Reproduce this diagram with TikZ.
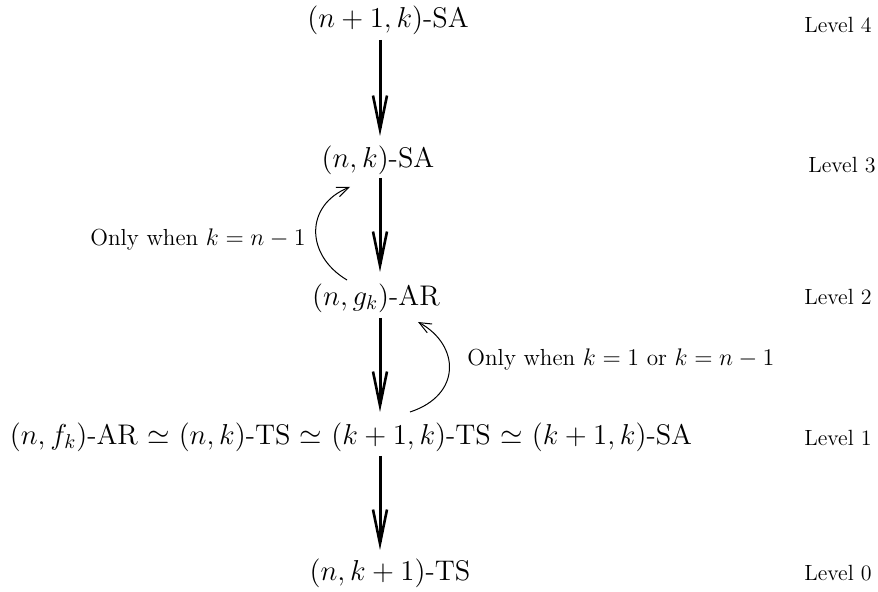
\documentclass[tikz,border=0pt]{standalone}
\usetikzlibrary{arrows.meta}
\begin{document}
\begin{tikzpicture}[x=0.5pt,y=-0.5pt,
  main/.style={inner sep=0pt,font=\fontsize{14.2}{17}\selectfont},
  lvl/.style={inner sep=0pt,font=\fontsize{11}{13}\selectfont},
  cond/.style={inner sep=0pt,font=\fontsize{11.6}{14}\selectfont},
  bigarrow/.style={line width=1.5pt,-{Straight Barb[length=17pt,width=7pt,line width=1.3pt]}},
  thinarrow/.style={line width=0.5pt,-{Straight Barb[length=6pt,width=5pt,line width=0.5pt]}}]
\useasboundingbox (0,0) rectangle (878,592);
\node[main] (l4) at (388,20) {$(n+1,k)$-SA};
\node[main] (l3) at (378,160) {$(n,k)$-SA};
\node[main] (l2) at (376,298) {$(n,g_k)$-AR};
\node[main] (l1) at (351,437) {$(n,f_k)$-AR $\simeq$ $(n,k)$-TS $\simeq$ $(k+1,k)$-TS $\simeq$ $(k+1,k)$-SA};
\node[main] (l0) at (390,573) {$(n,k+1)$-TS};
\node[lvl] (v4) at (838,25) {Level 4};
\node[lvl] (v3) at (842,165) {Level 3};
\node[lvl] (v2) at (838,297) {Level 2};
\node[lvl] (v1) at (838,438) {Level 1};
\node[lvl] (v0) at (838,573) {Level 0};
\coordinate (a4) at (380,40);
\coordinate (b3) at (380,136);
\coordinate (a3) at (380,178);
\coordinate (b2) at (380,272);
\coordinate (a2) at (380,318);
\coordinate (b1) at (380,412);
\coordinate (a1) at (380,456);
\coordinate (b0) at (380,550);
\draw[bigarrow] (a4) -- (b3);
\draw[bigarrow] (a3) -- (b2);
\draw[bigarrow] (a2) -- (b1);
\draw[bigarrow] (a1) -- (b0);
\coordinate (c1s) at (347,280);
\coordinate (c1e) at (350,187);
\draw[thinarrow] (c1s) .. controls (305,255) and (305,205) .. (c1e);
\node[cond,anchor=east] (t1) at (306,240) {Only when $k=n-1$};
\coordinate (c2s) at (410,412);
\coordinate (c2e) at (418,322);
\draw[thinarrow] (c2s) .. controls (462,395) and (460,345) .. (c2e);
\node[cond,anchor=west] (t2) at (467,360) {Only when $k=1$ or $k=n-1$};
\end{tikzpicture}
\end{document}
